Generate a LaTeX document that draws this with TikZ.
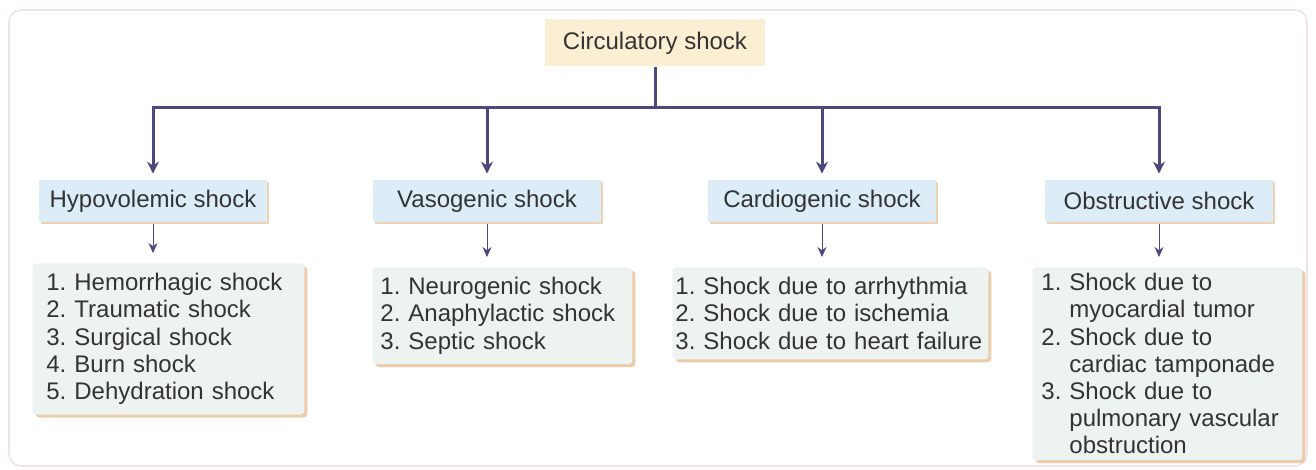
\documentclass[tikz,border=0pt]{standalone}
\usepackage{fontspec}
\setmainfont{Liberation Sans}
\usepackage{xcolor}
\usetikzlibrary{arrows.meta,positioning,shadows}
\definecolor{ShockInk}{HTML}{333333}
\definecolor{ShockLine}{HTML}{4A4A7E}
\definecolor{RootFill}{HTML}{FBEFD3}
\definecolor{TypeFill}{HTML}{DCEDF8}
\definecolor{ListFill}{HTML}{EDF3F0}
\definecolor{ShadowTan}{HTML}{EBC7A0}
\definecolor{FrameEdge}{HTML}{F2E2E8}
\frenchspacing

\begin{document}
\begin{tikzpicture}[
  x=0.5pt,y=-0.5pt,
  font=\fontsize{12}{13.6}\selectfont,
  text=ShockInk,
  root/.style={fill=RootFill,minimum width=110pt,minimum height=23.5pt,inner sep=0pt},
  typebox/.style={fill=TypeFill,minimum width=114pt,minimum height=21pt,inner sep=0pt,
                  drop shadow={shadow xshift=1pt,shadow yshift=-1pt,fill=ShadowTan,opacity=0.8}},
  listbox/.style={fill=ListFill,anchor=north west,align=left,text width=#1,
                  rounded corners=2pt,inner xsep=7pt,inner ysep=5pt,
                  drop shadow={shadow xshift=1.5pt,shadow yshift=-1.5pt,fill=ShadowTan,opacity=0.9}},
  trunk/.style={draw=ShockLine,line width=1.5pt},
  twig/.style={draw=ShockLine,line width=0.5pt,-{Stealth[length=5pt,width=4.5pt]},
               shorten <=1pt,shorten >=5pt},
]
  \useasboundingbox (0,0) rectangle (1316,470);
  \draw[FrameEdge,line width=0.8pt,rounded corners=6pt] (9,10) rectangle (1307,466);

  \node[root] (circ) at (655,43) {Circulatory shock};

  \node[typebox] (hypo)   at (153,201)  {Hypovolemic shock};
  \node[typebox] (vaso)   at (487,201)  {Vasogenic shock};
  \node[typebox] (cardio) at (822,201)  {Cardiogenic shock};
  \node[typebox] (obstr)  at (1159,201) {Obstructive shock};

  \coordinate (bar) at (655,108);
  \draw[trunk] (circ.south) -- (bar);
  \foreach \kind in {hypo,vaso,cardio,obstr}
    \draw[trunk,-{Stealth[length=6pt,width=6pt]},shorten >=3pt] (bar) -| (\kind.north);

  \node[listbox=122pt,inner xsep=7pt] (hypo-list) at (32,263)
    {1. Hemorrhagic shock\\2. Traumatic shock\\3. Surgical shock\\4. Burn shock\\5. Dehydration shock};
  \node[listbox=122pt,inner xsep=4pt] (vaso-list) at (372,267)
    {1. Neurogenic shock\\2. Anaphylactic shock\\3. Septic shock};
  \node[listbox=155pt,inner xsep=1.5pt] (cardio-list) at (672,267)
    {1. Shock due to arrhythmia\\2. Shock due to ischemia\\3. Shock due to heart failure};
  \node[listbox=126pt,inner xsep=4.5pt,inner ysep=3pt] (obstr-list) at (1032,267)
    {1. Shock due to\\\phantom{1. }myocardial tumor\\2. Shock due to\\\phantom{2. }cardiac tamponade\\%
     3. Shock due to\\\phantom{3. }pulmonary vascular\\\phantom{3. }obstruction};

  \foreach \kind in {hypo,vaso,cardio,obstr}
    \draw[twig] (\kind.south) -- (\kind.south |- \kind-list.north);
\end{tikzpicture}
\end{document}
